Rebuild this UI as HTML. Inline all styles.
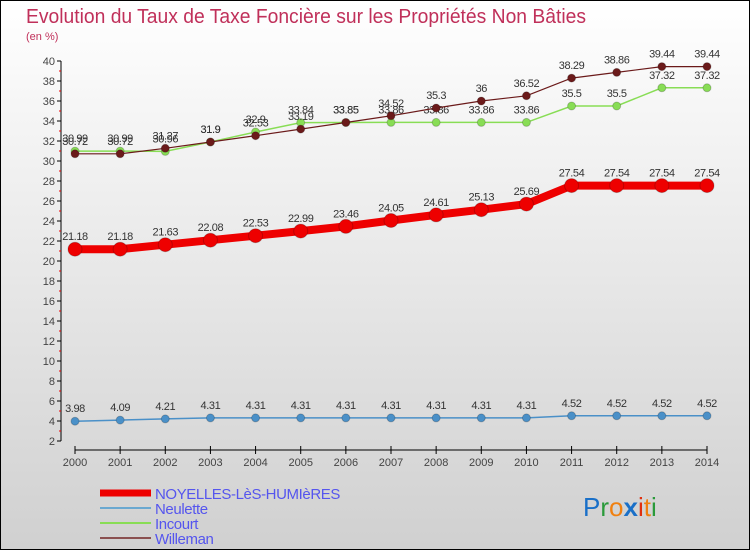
<!DOCTYPE html>
<html><head><meta charset="utf-8"><style>
body{margin:0;width:750px;height:550px;overflow:hidden}
svg{display:block;font-family:"Liberation Sans","DejaVu Sans",sans-serif}
</style></head><body>
<svg id="chart" width="750" height="550" xmlns="http://www.w3.org/2000/svg">
<defs><linearGradient id="bg" x1="0" y1="0" x2="0" y2="1"><stop offset="0" stop-color="#ffffff"/><stop offset="1" stop-color="#d0d0d0"/></linearGradient></defs>
<rect x="0.5" y="0.5" width="749" height="549" fill="url(#bg)" stroke="#000"/>
<text x="26" y="23" font-size="20" fill="#c0305a" textLength="560" lengthAdjust="spacingAndGlyphs">Evolution du Taux de Taxe Foncière sur les Propriétés Non Bâties</text>
<text x="26" y="40" font-size="11" fill="#c0305a">(en %)</text>
<g id="axes"></g><g id="series"></g><g id="legend"></g>
<g font-size="26" font-family="'Liberation Sans',sans-serif">
<text x="583" y="516"><tspan fill="#1a70c8">P</tspan><tspan fill="#2a9a3a">r</tspan><tspan fill="#f08010">o</tspan><tspan fill="#1a70c8" font-weight="bold">x</tspan><tspan fill="#e03010">i</tspan><tspan fill="#f08010">t</tspan><tspan fill="#2a9a3a">i</tspan></text>
</g>
</svg>
<script>
const years=[2000,2001,2002,2003,2004,2005,2006,2007,2008,2009,2010,2011,2012,2013,2014];
const noyelles=[21.18,21.18,21.63,22.08,22.53,22.99,23.46,24.05,24.61,25.13,25.69,27.54,27.54,27.54,27.54];
const neulette=[3.98,4.09,4.21,4.31,4.31,4.31,4.31,4.31,4.31,4.31,4.31,4.52,4.52,4.52,4.52];
const incourt=[30.99,30.99,30.96,31.9,32.9,33.84,33.85,33.86,33.86,33.86,33.86,35.5,35.5,37.32,37.32];
const willeman=[30.72,30.72,31.27,31.9,32.53,33.19,33.85,34.52,35.3,36,36.52,38.29,38.86,39.44,39.44];
const yTicks=[2,4,6,8,10,12,14,16,18,20,22,24,26,28,30,32,34,36,38,40];
const NS='http://www.w3.org/2000/svg';
const X=i=>75+i*(707-75)/(years.length-1);
const Y=v=>61+(40-v)*10;
function mk(tag,attrs,parent,txt){const e=document.createElementNS(NS,tag);for(const k in attrs)e.setAttribute(k,attrs[k]);if(txt!==undefined)e.textContent=txt;parent.appendChild(e);return e;}
const ax=document.getElementById('axes');
let yl=mk('line',{x1:61,y1:Y(40),x2:61,y2:Y(2),stroke:'#000','stroke-width':1},ax);


for(const t of yTicks){
 mk('line',{x1:57,y1:Y(t),x2:61,y2:Y(t),stroke:'#000'},ax);
 let tl=mk('text',{x:55,y:Y(t)+4,'font-size':11,'text-anchor':'end',fill:'#444'},ax,t);
 
 
 if(t<40) mk('line',{x1:59,y1:Y(t+1),x2:61,y2:Y(t+1),stroke:'#e00'},ax);
}
let xl=mk('line',{x1:X(0),y1:450,x2:X(years.length-1),y2:450,stroke:'#000'},ax);


years.forEach((yr,i)=>{
 mk('line',{x1:X(i),y1:446,x2:X(i),y2:454,stroke:'#000'},ax);
 let t=mk('text',{x:X(i),y:466,'font-size':11,'text-anchor':'middle',fill:'#444'},ax,yr);
 
 
});
const sg=document.getElementById('series');
function series(vals,color,lw,r,name){
 const g=mk('g',{},sg);
 
 
 mk('polyline',{points:vals.map((v,i)=>X(i)+','+Y(v)).join(' '),fill:'none',stroke:color,'stroke-width':lw},g);
 vals.forEach((v,i)=>{
  let c=mk('circle',{cx:X(i),cy:Y(v),r:r,fill:color,stroke:'rgba(0,0,0,0.2)'},g);
  
  
  mk('text',{x:X(i),y:Y(v)-9,'font-size':11,'text-anchor':'middle',fill:'#333','letter-spacing':'-0.4'},g,String(v));
 });
}
series(incourt,'#88dd55',1.5,4,'incourt');
series(willeman,'#6b1a1a',1.2,4,'willeman');
series(noyelles,'#ee0000',8,7,'noyelles');
series(neulette,'#4a90c8',1.5,4,'neulette');
const lg=document.getElementById('legend');
[['NOYELLES-LèS-HUMIèRES','#ee0000',7],['Neulette','#6aa8d0',2],['Incourt','#88dd55',2],['Willeman','#8a5050',2]].forEach((e,i)=>{
 const g=mk('g',{},lg);
 
 
 const y=492+i*15;
 mk('line',{x1:100,y1:y+1,x2:151,y2:y+1,stroke:e[1],'stroke-width':e[2]},g);
 mk('text',{x:155,y:y+7,'font-size':15,fill:'#5555ee','letter-spacing':'-0.4'},g,e[0]);
});
</script>
</body></html>
